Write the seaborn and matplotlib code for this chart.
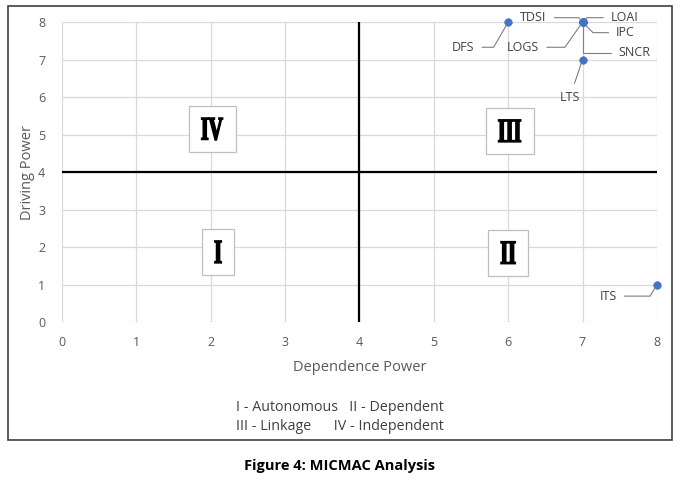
import matplotlib
matplotlib.use("Agg")
import matplotlib.pyplot as plt
import seaborn as sns
import pandas as pd
from matplotlib.patches import Rectangle, PathPatch
from matplotlib.textpath import TextPath
from matplotlib.font_manager import FontProperties
from matplotlib.transforms import Affine2D, ScaledTranslation

# data
labels = ["DFS", "TDSI", "LOAI", "IPC", "LOGS", "SNCR", "LTS", "ITS"]
dependence = [6, 7, 7, 7, 7, 7, 7, 8]
driving = [8, 8, 8, 8, 8, 8, 7, 1]
# label text positions (data coords) and leader line angle at the point
label_x = [5.55, 6.52, 7.38, 7.45, 6.42, 7.48, 6.83, 7.46]
label_y = [7.33, 8.12, 8.12, 7.72, 7.33, 7.18, 6.0, 0.69]
leader_angle = [60, 130, 45, 135, 55, 90, 65, 60]

quadrants = ["I", "II", "III", "IV"]
quad_x = [2.1, 6.0, 6.02, 2.02]
quad_y = [1.87, 1.85, 5.1, 5.15]

df = pd.DataFrame({"label": labels, "Dependence Power": dependence,
                   "Driving Power": driving})

sns.set_style("white")
plt.rcParams["font.family"] = ["Open Sans", "DejaVu Sans"]

fig = plt.figure(figsize=(6.8, 4.82), dpi=100)
ax = fig.add_axes([0.091, 0.332, 0.875, 0.622])

sns.scatterplot(data=df, x="Dependence Power", y="Driving Power", ax=ax,
                color="#4472c4", s=30, edgecolor="#4472c4", zorder=5,
                clip_on=False)

ax.set_xlim(0, 8)
ax.set_ylim(0, 8)
ax.set_xticks(range(9))
ax.set_yticks(range(9))
ax.grid(True, color="#d9d9d9", linewidth=0.9)
for s in ax.spines.values():
    s.set_visible(False)
ax.tick_params(length=0, labelsize=9, labelcolor="#595959")
ax.tick_params(axis="x", pad=10)
ax.tick_params(axis="y", pad=12)
ax.set_xlabel("Dependence Power", fontsize=10.5, color="#595959", labelpad=8)
ax.set_ylabel("Driving Power", fontsize=10.5, color="#595959", labelpad=2)

ax.axvline(4, color="black", linewidth=1.6, zorder=3)
ax.axhline(4, color="black", linewidth=1.6, zorder=3)

# quadrant labels: condensed heavy serif numerals in a grey box
fig.canvas.draw()
bbox_ax = ax.get_window_extent()
ux = 8 / bbox_ax.width    # data units per pixel
uy = 8 / bbox_ax.height
cap_px, squeeze, pad_x, pad_y = 22, 0.6, 13, 12
numeral_font = FontProperties(family="Liberation Serif", weight="bold")
for q, qx, qy in zip(quadrants, quad_x, quad_y):
    tp = TextPath((0, 0), q, size=1, prop=numeral_font)
    ext = tp.get_extents()
    sy = cap_px / ext.height
    sx = sy * squeeze
    w_px = ext.width * sx
    tr = (Affine2D().translate(-(ext.x0 + ext.x1) / 2, -(ext.y0 + ext.y1) / 2)
          .scale(sx, sy) + ScaledTranslation(qx, qy, ax.transData))
    ax.add_patch(Rectangle((qx - (w_px / 2 + pad_x) * ux, qy - (cap_px / 2 + pad_y) * uy),
                           (w_px + 2 * pad_x) * ux, (cap_px + 2 * pad_y) * uy,
                           fc="white", ec="#bfbfbf", lw=0.9, zorder=6))
    ax.add_patch(PathPatch(tp, transform=tr, fc="black", ec="black",
                           lw=1.1, zorder=7))

for lab, x, y, lx, ly, ang in zip(labels, dependence, driving,
                                  label_x, label_y, leader_angle):
    ha = "right" if lx < x else "left"
    style = "angle,angleA=0,angleB=%d,rad=0" % ang
    if lab == "LTS":
        ha, style = "center", "arc3"
    ax.annotate(lab, xy=(x, y), xytext=(lx, ly), ha=ha, va="center",
                fontsize=9, color="#404040", annotation_clip=False,
                arrowprops=dict(arrowstyle="-", color="#7f7f7f", lw=0.8,
                                connectionstyle=style,
                                shrinkA=3, shrinkB=3))

fig.text(0.5, 0.148, "I - Autonomous   II - Dependent", ha="center",
         fontsize=10.3, color="#404040")
fig.text(0.5, 0.108, "III - Linkage      IV - Independent", ha="center",
         fontsize=10.3, color="#404040")

fig.patches.append(Rectangle((0.012, 0.087), 0.976, 0.9, transform=fig.transFigure,
                             fill=False, ec="#404040", lw=1.2))
fig.text(0.5, 0.025, "Figure 4: MICMAC Analysis", ha="center",
         fontsize=10.5, fontweight="bold", color="black")

fig.savefig("out.png", dpi=100)
